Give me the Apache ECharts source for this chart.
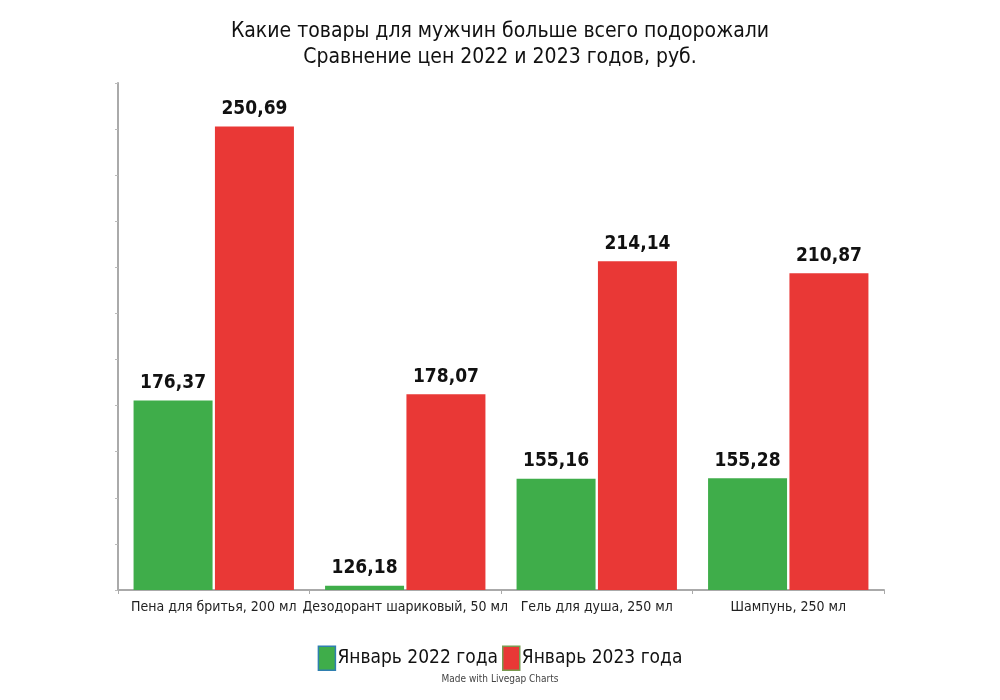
<!DOCTYPE html>
<html><head><meta charset="utf-8">
<script src="https://cdn.jsdelivr.net/npm/echarts@6/dist/echarts.min.js"></script>
<style>html,body{margin:0;padding:0;background:#fff}#c{width:1000px;height:700px}</style>
</head><body><div id="c"></div>
<script>
const categories = ['Пена для бритья, 200 мл', 'Дезодорант шариковый, 50 мл', 'Гель для душа, 250 мл', 'Шампунь, 250 мл'];
const series2022 = [176.37, 126.18, 155.16, 155.28];
const series2023 = [250.69, 178.07, 214.14, 210.87];
const seriesNames = ['Январь 2022 года', 'Январь 2023 года'];
const FONT = '"Liberation Sans Narrow", "DejaVu Sans Condensed", "Roboto", sans-serif';
const chart = echarts.init(document.getElementById('c'));
const fmt = p => p.value.toFixed(2).replace('.', ',');
chart.setOption({
  animation: false,
  textStyle: {fontFamily: FONT},
  title: {
    text: 'Какие товары для мужчин больше всего подорожали\nСравнение цен 2022 и 2023 годов, руб.',
    left: 'center', top: 14,
    textStyle: {fontFamily: FONT, fontSize: 21, fontWeight: 'normal', color: '#111', lineHeight: 26}
  },
  legend: {
    bottom: 24, left: 'center', icon: 'rect', itemWidth: 17, itemHeight: 24, itemGap: 4,
    textStyle: {fontFamily: FONT, fontSize: 19, color: '#111', padding: [0, 0, 0, -3]},
    data: [
      {name: seriesNames[0], itemStyle: {borderColor: '#2f7fb0', borderWidth: 1.5}},
      {name: seriesNames[1], itemStyle: {borderColor: '#7a9a50', borderWidth: 1.5}}
    ]
  },
  graphic: [{type: 'text', left: 'center', top: 674, style: {text: 'Made with Livegap Charts', font: '10px ' + FONT, fill: '#444'}}],
  grid: {left: 118, right: 116, top: 83, bottom: 110, containLabel: false},
  xAxis: {
    type: 'category', data: categories,
    axisLine: {lineStyle: {color: '#aaa', width: 2}},
    axisTick: {show: true, length: 4, lineStyle: {color: '#aaa'}},
    axisLabel: {interval: 0, hideOverlap: false, fontFamily: FONT, fontSize: 14, color: '#222', margin: 10}
  },
  yAxis: {
    type: 'value', min: 125, max: 262.5, interval: 12.5,
    axisLine: {show: true, lineStyle: {color: '#aaa', width: 2}},
    axisTick: {show: true, length: 3, lineStyle: {color: '#bbb'}},
    axisLabel: {show: false},
    splitLine: {show: false}
  },
  series: [
    {name: seriesNames[0], type: 'bar', data: series2022, barWidth: 79, barGap: '3%',
     itemStyle: {color: '#3fad4a'},
     label: {show: true, position: 'top', distance: 8, formatter: fmt, fontFamily: FONT, fontSize: 19, fontWeight: 'bold', color: '#111'}},
    {name: seriesNames[1], type: 'bar', data: series2023, barWidth: 79,
     itemStyle: {color: '#e93836'},
     label: {show: true, position: 'top', distance: 8, formatter: fmt, fontFamily: FONT, fontSize: 19, fontWeight: 'bold', color: '#111'}}
  ]
});
</script></body></html>
